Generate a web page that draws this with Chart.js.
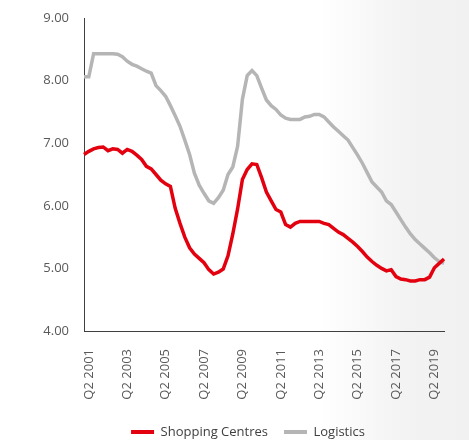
<!DOCTYPE html>
<html>
<head>
<meta charset="utf-8">
<script src="https://cdn.jsdelivr.net/npm/chart.js@4/dist/chart.umd.min.js"></script>
<style>
  html, body { margin: 0; padding: 0; background: #ffffff; }
  #wrap {
    width: 469px; height: 440px; position: relative;
    background: linear-gradient(to right, #ffffff 0%, #ffffff 68%, #f3f3f3 86%, #f1f1f1 100%);
  }
</style>
</head>
<body>
<div id="wrap"><canvas id="myChart"></canvas></div>
<script>
// quarterly categories, Q1 2001 .. Q4 2019
const quarters = []
for (let y = 2001; y <= 2019; y++) {
    for (let q = 1; q <= 4; q++) {
        quarters.push('Q' + q + ' ' + y)
    }
}

const shoppingCentres = [
    6.82, 6.87, 6.91, 6.93, 6.94, 6.88, 6.91, 6.90, 6.84, 6.90,
    6.87, 6.81, 6.74, 6.63, 6.59, 6.50, 6.41, 6.35, 6.31, 5.96,
    5.72, 5.50, 5.33, 5.23, 5.16, 5.09, 4.98, 4.91, 4.94, 4.99,
    5.20, 5.55, 5.95, 6.42, 6.58, 6.67, 6.66, 6.45, 6.22, 6.08,
    5.94, 5.90, 5.70, 5.66, 5.72, 5.75, 5.75, 5.75, 5.75, 5.75,
    5.72, 5.70, 5.64, 5.58, 5.54, 5.48, 5.42, 5.35, 5.27, 5.18,
    5.11, 5.05, 5.00, 4.96, 4.98, 4.87, 4.83, 4.82, 4.80, 4.80,
    4.82, 4.82, 4.86, 5.01, 5.08, 5.15
]

const logistics = [
    8.06, 8.06, 8.43, 8.43, 8.43, 8.43, 8.43, 8.42, 8.38, 8.31,
    8.26, 8.23, 8.19, 8.15, 8.12, 7.92, 7.84, 7.75, 7.60, 7.44,
    7.27, 7.05, 6.82, 6.52, 6.33, 6.20, 6.08, 6.04, 6.13, 6.25,
    6.50, 6.62, 6.95, 7.70, 8.08, 8.16, 8.08, 7.88, 7.69, 7.60,
    7.54, 7.45, 7.40, 7.38, 7.38, 7.38, 7.42, 7.43, 7.46, 7.46,
    7.42, 7.34, 7.26, 7.19, 7.12, 7.05, 6.93, 6.81, 6.68, 6.53,
    6.38, 6.30, 6.22, 6.08, 6.02, 5.90, 5.78, 5.66, 5.55, 5.46,
    5.39, 5.32, 5.25, 5.17, 5.11, 5.08
]

const canvas = document.getElementById('myChart')

Chart.defaults.font.family = "'Open Sans', 'DejaVu Sans', sans-serif"
Chart.defaults.font.size = 13
Chart.defaults.color = '#595959'

// nudge the legend so it sits centred under the plot like the original
const shiftLegend = {
    id: 'shiftLegend',
    afterLayout(chart) {
        chart.legend.left += 52
    }
}

const config = {
    type: 'line',
    data: {
        labels: quarters,
        datasets: [{
            label: 'Shopping Centres',
            data: shoppingCentres,
            borderColor: '#e3000f',
            backgroundColor: '#e3000f',
            borderWidth: 3.5,
            pointRadius: 0,
            tension: 0
        }, {
            label: 'Logistics',
            data: logistics,
            borderColor: '#b5b5b5',
            backgroundColor: '#b5b5b5',
            borderWidth: 3.5,
            pointRadius: 0,
            tension: 0
        }]
    },
    options: {
        responsive: true,
        maintainAspectRatio: false,
        animation: false,
        layout: {
            padding: { top: 18, right: 25, left: 0, bottom: -8.5 }
        },
        scales: {
            x: {
                grid: {
                    display: true,
                    drawOnChartArea: false,
                    drawTicks: true,
                    tickLength: 14,
                    color: 'rgba(0,0,0,0)'
                },
                border: { display: true, color: '#404040', width: 1 },
                ticks: {
                    autoSkip: false,
                    maxRotation: 90,
                    minRotation: 90,
                    padding: 4,
                    color: '#595959',
                    callback: function (val, i) {
                        return i % 8 === 1 ? this.getLabelForValue(val) : ''
                    }
                },
                afterFit: (scale) => { scale.height = 78.5 }
            },
            y: {
                min: 4,
                max: 9,
                grid: { display: false },
                border: { display: true, color: '#404040', width: 1 },
                ticks: {
                    stepSize: 1,
                    padding: 7,
                    color: '#595959',
                    callback: (v) => v.toFixed(2)
                },
                afterFit: (scale) => { scale.width = 84 }
            }
        },
        plugins: {
            tooltip: { enabled: false },
            legend: {
                position: 'bottom',
                labels: {
                    boxWidth: 23,
                    boxHeight: 4,
                    padding: 16,
                    color: '#404040',
                    generateLabels: (chart) => {
                        const items = Chart.defaults.plugins.legend.labels.generateLabels(chart)
                        items.forEach((it) => { it.lineWidth = 0 })
                        return items
                    }
                }
            }
        }
    },
    plugins: [shiftLegend]
}

const myChart = new Chart(canvas, config)
</script>
</body>
</html>
